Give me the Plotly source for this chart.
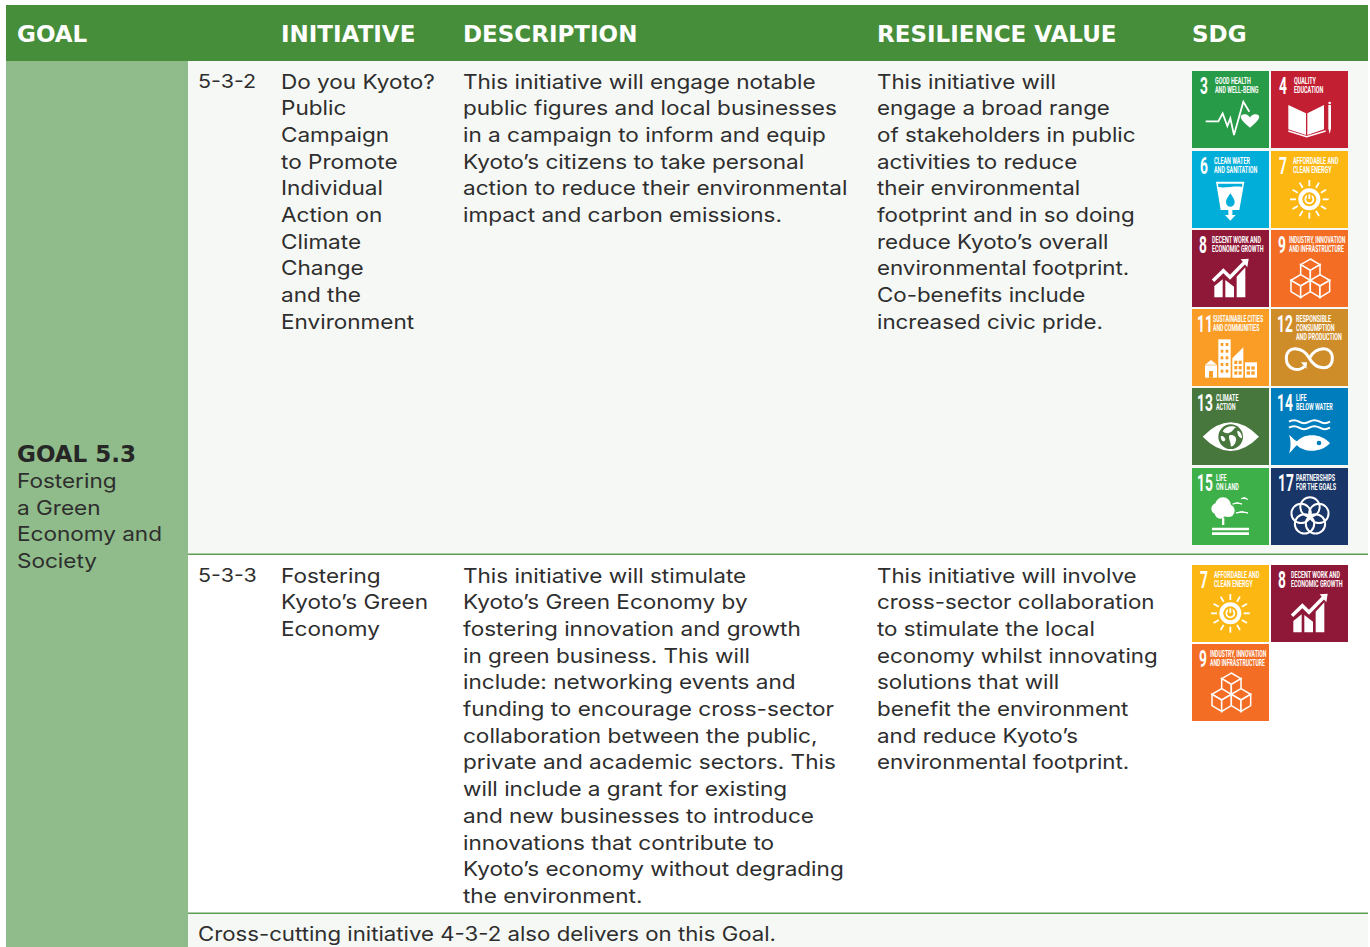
import math
import re
import plotly.graph_objects as go

W, H = 1370, 947
HEADERS = [("GOAL", 17), ("INITIATIVE", 281), ("DESCRIPTION", 463), ("RESILIENCE VALUE", 877), ("SDG", 1192)]
GOAL_TITLE = "GOAL 5.3"
GOAL_LINES = ["Fostering", "a Green", "Economy and", "Society"]
ROW1_ID = "5-3-2"
ROW1_INIT = ["Do you Kyoto?", "Public", "Campaign", "to Promote", "Individual", "Action on", "Climate", "Change", "and the", "Environment"]
ROW1_DESC = ["This initiative will engage notable", "public figures and local businesses", "in a campaign to inform and equip",
             "Kyoto’s citizens to take personal", "action to reduce their environmental", "impact and carbon emissions."]
ROW1_RES = ["This initiative will", "engage a broad range", "of stakeholders in public", "activities to reduce",
            "their environmental", "footprint and in so doing", "reduce Kyoto’s overall", "environmental footprint.",
            "Co-benefits include", "increased civic pride."]
ROW2_ID = "5-3-3"
ROW2_INIT = ["Fostering", "Kyoto’s Green", "Economy"]
ROW2_DESC = ["This initiative will stimulate", "Kyoto’s Green Economy by", "fostering innovation and growth",
             "in green business. This will", "include: networking events and", "funding to encourage cross-sector",
             "collaboration between the public,", "private and academic sectors. This", "will include a grant for existing",
             "and new businesses to introduce", "innovations that contribute to", "Kyoto’s economy without degrading",
             "the environment."]
ROW2_RES = ["This initiative will involve", "cross-sector collaboration", "to stimulate the local", "economy whilst innovating",
            "solutions that will", "benefit the environment", "and reduce Kyoto’s", "environmental footprint."]
FOOTER = "Cross-cutting initiative 4-3-2 also delivers on this Goal."

SDG_COLOR = {3: "#279B48", 4: "#C31F33", 6: "#00AED9", 7: "#FDB713", 8: "#8F1838", 9: "#F36D25",
             11: "#F99D26", 12: "#CF8D2A", 13: "#48773E", 14: "#007DBC", 15: "#3EB049", 17: "#183668"}
SDG_TITLE = {3: ["GOOD HEALTH", "AND WELL-BEING"], 4: ["QUALITY", "EDUCATION"], 6: ["CLEAN WATER", "AND SANITATION"],
             7: ["AFFORDABLE AND", "CLEAN ENERGY"], 8: ["DECENT WORK AND", "ECONOMIC GROWTH"],
             9: ["INDUSTRY, INNOVATION", "AND INFRASTRUCTURE"], 11: ["SUSTAINABLE CITIES", "AND COMMUNITIES"],
             12: ["RESPONSIBLE", "CONSUMPTION", "AND PRODUCTION"], 13: ["CLIMATE", "ACTION"], 14: ["LIFE", "BELOW WATER"],
             15: ["LIFE", "ON LAND"], 17: ["PARTNERSHIPS", "FOR THE GOALS"]}
NUM_X = {3: 8, 4: 8, 6: 8, 7: 8, 8: 7, 9: 7, 11: 5, 12: 6, 13: 5, 14: 6, 15: 5, 17: 7}
TITLE_X = {3: 23, 4: 23, 6: 22, 7: 22, 8: 20, 9: 18, 11: 21, 12: 25, 13: 24, 14: 25, 15: 24, 17: 25}
TITLE_SIZE = {3: 9, 4: 9, 6: 9, 7: 9, 8: 9, 9: 8.5, 11: 8.5, 12: 9, 13: 9, 14: 9, 15: 9, 17: 9}
TILES = [(3, 1192, 71), (4, 1271, 71), (6, 1192, 151), (7, 1271, 151), (8, 1192, 230), (9, 1271, 230),
         (11, 1192, 309), (12, 1271, 309), (13, 1192, 388), (14, 1271, 388), (15, 1192, 468), (17, 1271, 468),
         (7, 1192, 565), (8, 1271, 565), (9, 1192, 644)]
TILE = 77

BODY = "Inter"
BODY_STRETCH = 1.128
TILE_FONT = "Roboto"
TILE_SQUEEZE = 0.6
INK = "#2e2e2e"
shapes, notes = [], []


def rect(x0, y0, x1, y1, color):
    shapes.append(dict(type="rect", x0=x0, y0=y0, x1=x1, y1=y1, fillcolor=color, line=dict(width=0), layer="below"))


def text(x, y, s, size=20, color=INK, family=BODY, weight=None):
    f = dict(size=size, color=color, family=family)
    if weight:
        f["weight"] = weight
    notes.append(dict(x=x - 1, y=y, text=s, xref="x", yref="y", xanchor="left", yanchor="middle", showarrow=False, font=f,
                      borderpad=0, align="left"))


def lines(x, y0, arr, pitch=26.7, size=20):
    for i, s in enumerate(arr):
        text(x, y0 + i * pitch, s, size=size)


def path(tx, ty, d, fill="W", stroke=None, w=0, col="#fff"):
    """d uses tile units (231 per tile side)."""
    toks = re.findall(r"[MLCQZ]|-?\d+\.?\d*", d)
    out, isx = [], True
    for t in toks:
        if t.isalpha():
            out.append(t)
            isx = True
        else:
            v = float(t) / 3 + (tx if isx else ty)
            out.append(f"{v:.2f}")
            isx = not isx
    c = {"W": "#ffffff", "T": col, None: "rgba(0,0,0,0)"}
    shapes.append(dict(type="path", path=" ".join(out), fillcolor=c[fill],
                       line=dict(color=c.get(stroke, "#ffffff"), width=w), layer="below"))


def circ(tx, ty, cx, cy, r, fill="W", stroke=None, w=0, col="#fff"):
    c = {"W": "#ffffff", "T": col, None: "rgba(0,0,0,0)"}
    shapes.append(dict(type="circle", x0=tx + (cx - r) / 3, x1=tx + (cx + r) / 3, y0=ty + (cy - r) / 3, y1=ty + (cy + r) / 3,
                       fillcolor=c[fill], line=dict(color=c.get(stroke, "#ffffff"), width=w), layer="below"))


def box(x0, y0, x1, y1):
    return f"M{x0} {y0} L{x1} {y0} L{x1} {y1} L{x0} {y1} Z"


def cube(tx, ty, cx, cy, col):
    a, b = 29, 17
    path(tx, ty, f"M{cx} {cy-2*b} L{cx+a} {cy-b} L{cx} {cy} L{cx-a} {cy-b} Z", "T", "W", 1.5, col)
    path(tx, ty, f"M{cx-a} {cy-b} L{cx-a} {cy+b} L{cx} {cy+2*b} L{cx} {cy} Z", "T", "W", 1.5, col)
    path(tx, ty, f"M{cx+a} {cy-b} L{cx+a} {cy+b} L{cx} {cy+2*b} L{cx} {cy} Z", "T", "W", 1.5, col)


def icon(n, tx, ty):
    col = SDG_COLOR[n]
    P = lambda d, fill="W", stroke=None, w=0: path(tx, ty, d, fill, stroke, w, col)
    Ci = lambda cx, cy, r, fill="W", stroke=None, w=0: circ(tx, ty, cx, cy, r, fill, stroke, w, col)
    if n == 3:
        P("M41 151 L79 151 L92 127 L106 165 L115 142 L126 192 L154 92 L172 122", None, "W", 1.8)
        P("M174 170 C150 150 136 135 155 130 C165 128 172 135 174 140 C176 135 183 128 193 130 C212 135 198 150 174 170 Z")
    elif n == 4:
        P("M52 102 L105 127 L105 192 L52 175 Z")
        P("M109 127 L159 102 L159 175 L109 192 Z")
        P("M52 180 L107 197 L164 180", None, "W", 1.5)
        P("M172 102 L180 102 L180 172 L176 189 L172 172 Z")
        Ci(176, 96, 4)
    elif n == 6:
        P("M72 92 L157 92 L142 177 L86 177 Z")
        P("M78 98 L151 98 L150 108 C130 104 100 112 79 108 Z", "T")
        P(box(109, 177, 121, 192))
        P("M99 192 L131 192 L115 209 Z")
        P("M115 127 C107 140 102 146 102 153 C102 172 128 172 128 153 C128 146 123 140 115 127 Z", "T")
    elif n == 7:
        cx, cy = 115, 145
        for k in range(12):
            a = math.radians(30 * k)
            P(f"M{cx+40*math.cos(a):.1f} {cy+40*math.sin(a):.1f} L{cx+58*math.cos(a):.1f} {cy+58*math.sin(a):.1f}", None, "W", 1.8)
        Ci(cx, cy, 33)
        Ci(cx, cy, 21, "T")
        Ci(cx, cy, 12, None, "W", 1.8)
        P(f"M{cx-7} {cy-17} L{cx+7} {cy-17} L{cx+7} {cy-6} L{cx-7} {cy-6} Z", "T")
        P(f"M{cx} {cy-15} L{cx} {cy-1}", None, "W", 1.8)
    elif n == 8:
        P("M67 202 L67 168 L92 148 L92 202 Z")
        P("M100 202 L100 150 L126 170 L126 202 Z")
        P("M134 202 L134 140 L160 112 L160 202 Z")
        P("M63 152 L94 122 L114 142 L158 97", None, "W", 3.5)
        P("M146 88 L170 86 L166 112 Z")
    elif n == 9:
        cube(tx, ty, 118, 121, col)
        cube(tx, ty, 89, 168, col)
        cube(tx, ty, 147, 168, col)
    elif n == 11:
        P("M39 167 L57 153 L75 167 Z")
        P(box(39, 169, 75, 206))
        P(box(51, 186, 63, 206), "T")
        P(box(79, 91, 116, 206))
        for r in range(5):
            for c_ in range(2):
                x0 = 86 + c_ * 15
                y0 = 102 + r * 20
                P(box(x0, y0, x0 + 8, y0 + 9), "T")
        P("M121 206 L121 148 L154 115 L154 206 Z")
        for r in range(3):
            for c_ in range(2):
                x0 = 127 + c_ * 13
                y0 = 155 + r * 16
                P(box(x0, y0, x0 + 9, y0 + 10), "T")
        P(box(159, 160, 195, 206))
        for r in range(2):
            for c_ in range(2):
                x0 = 164 + c_ * 14
                y0 = 172 + r * 15
                P(box(x0, y0, x0 + 10, y0 + 10), "T")
    elif n == 12:
        P("M115 148 C135 112 184 108 184 148 C184 188 135 184 115 148 C95 112 46 108 46 148 C46 186 90 188 100 172", None, "W", 3)
        P("M90 160 L108 160 L106 180 Z")
    elif n == 13:
        P("M32 146 Q116 60 201 146 Q116 232 32 146 Z")
        Ci(116, 146, 37, "T")
        P("M92 130 C100 112 125 112 132 118 C122 124 122 132 112 134 C105 138 98 135 92 130 Z")
        P("M112 142 C122 138 135 145 132 158 C128 172 120 178 116 174 C118 162 108 155 112 142 Z")
        P("M136 128 C145 128 150 140 150 150 C142 150 135 140 136 128 Z")
        P("M86 145 C92 142 100 148 100 156 C95 165 86 158 86 145 Z")
    elif n == 14:
        for y in (101, 119):
            P(f"M54 {y} Q69 {y-9} 84 {y} Q99 {y+9} 115 {y} Q130 {y-9} 146 {y} Q161 {y+9} 177 {y}", None, "W", 2)
        P("M54 140 C65 150 72 158 78 160 C100 135 150 135 177 166 C150 195 100 195 78 172 C72 175 62 190 54 197 C60 180 60 155 54 140 Z")
        Ci(144, 165, 7, "T")
    elif n == 15:
        Ci(93, 112, 24)
        Ci(75, 122, 17)
        Ci(109, 128, 19)
        Ci(85, 135, 17)
        P(box(90, 150, 97, 171))
        P(box(60, 179, 171, 187))
        P(box(60, 193, 171, 201))
        P("M148 92 Q158 84 167 94 Q156 89 148 92 Z", "W", "W", 1)
        P("M122 108 Q135 100 150 108 Q135 103 122 108 Z", "W", "W", 1)
        P("M132 135 Q148 126 168 135 Q150 130 132 135 Z", "W", "W", 1)
    elif n == 17:
        for k in range(5):
            a = math.radians(-90 + 72 * k)
            Ci(117 + 28 * math.cos(a), 145 + 28 * math.sin(a), 29, None, "W", 2)


# panels
rect(6, 5, 1368, 61, "#468E3A")
rect(6, 61, 188, 947, "#8FBC8A")
rect(188, 61, 1368, 554, "#F6F8F5")
rect(188, 913, 1368, 947, "#F6F8F5")
rect(188, 553.5, 1368, 555, "#5E9C54")
rect(188, 912.5, 1368, 914, "#5E9C54")

for s, x in HEADERS:
    text(x, 33.5, s, size=23, color="#ffffff", family="DejaVu Sans", weight=700)

text(17, 453.5, GOAL_TITLE, size=23, color="#262626", family="DejaVu Sans", weight=700)
lines(17, 481, GOAL_LINES)
lines(198, 81.5, [ROW1_ID], size=19)
lines(281, 81.5, ROW1_INIT)
lines(463, 81.5, ROW1_DESC)
lines(877, 81.5, ROW1_RES, size=19.8)
lines(198, 575.5, [ROW2_ID], size=19)
lines(281, 575.5, ROW2_INIT)
lines(463, 575.5, ROW2_DESC)
lines(877, 575.5, ROW2_RES, size=19.8)
text(198, 933.5, FOOTER, size=19.7)

for n, tx, ty in TILES:
    rect(tx, ty, tx + TILE, ty + TILE, SDG_COLOR[n])
    icon(n, tx, ty)
    text(tx + NUM_X[n], ty + 15, str(n), size=23, color="#ffffff", family=TILE_FONT, weight=700)
    for i, s in enumerate(SDG_TITLE[n]):
        text(tx + TITLE_X[n], ty + 10 + i * 9, s, size=TITLE_SIZE[n], color="#ffffff", family=TILE_FONT, weight=700)

axis = dict(visible=False, fixedrange=True, showgrid=False, zeroline=False)
fig = go.Figure()
fig.update_layout(width=W, height=H, margin=dict(l=0, r=0, t=0, b=0), paper_bgcolor="#ffffff", plot_bgcolor="#ffffff",
                  xaxis=dict(range=[0, W], **axis), yaxis=dict(range=[H, 0], **axis),
                  shapes=shapes, annotations=notes, showlegend=False)

POST = """
document.body.style.margin='0';document.body.style.overflow='hidden';
var FIT={'%s':%s,'%s':%s};
function fitText(){document.querySelectorAll('text.annotation-text').forEach(function(t){
  if(t.getAttribute('data-fit'))return;
  var fam=(t.style.fontFamily||'').replace(/["']/g,'').split(',')[0].trim();
  var k=FIT[fam]; if(!k)return;
  var x=t.getBBox().x;
  var rect=t.parentNode.querySelector('rect.bg');
  if(rect){rect.setAttribute('width',parseFloat(rect.getAttribute('width'))*k);}
  t.setAttribute('transform','translate('+x+' 0) scale('+k+' 1) translate('+(-x)+' 0)');
  t.setAttribute('data-fit','1');
});}
fitText();setTimeout(fitText,60);setTimeout(fitText,300);
""" % (BODY, BODY_STRETCH, TILE_FONT, TILE_SQUEEZE)
fig.write_html("out.html", config=dict(displayModeBar=False), post_script=POST)
